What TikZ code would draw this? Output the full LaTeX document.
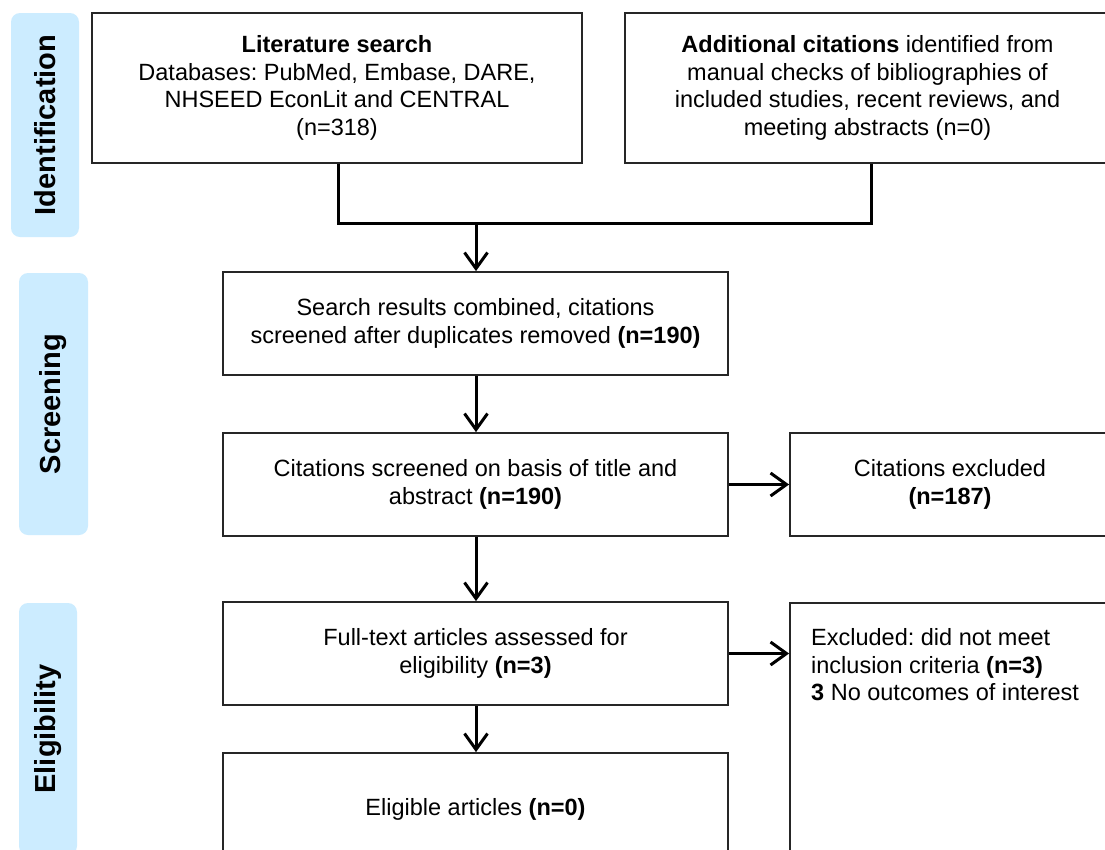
\documentclass[tikz,border=0pt]{standalone}
\usepackage{fontspec}
\setmainfont{Liberation Sans}
\usetikzlibrary{arrows.meta}
\definecolor{phasecol}{RGB}{204,236,255}
\frenchspacing

\begin{document}
\begin{tikzpicture}[x=1pt,y=-1pt,
  box/.style={draw=black!85, line width=1.8pt, fill=white, inner sep=0pt,
    align=center, font=\fontsize{23.5}{27.8}\selectfont},
  phase/.style={fill=phasecol, rounded corners=9pt, inner sep=0pt, rotate=90,
    font=\fontsize{29}{33}\selectfont\bfseries},
  link/.style={line width=3pt, line join=miter},
  flow/.style={link, -{Straight Barb[length=16pt,width=23pt,line width=3pt]}}
]
\useasboundingbox[fill=white] (0,0) rectangle (1105,849);

% phase labels on the left
\node[phase, minimum width=224pt, minimum height=68pt] (pid) at (45,125) {Identification};
\node[phase, minimum width=262pt, minimum height=69pt] (psc) at (53.5,404) {Screening};
\node[phase, minimum width=252pt, minimum height=58pt] (pel) at (48,729) {Eligibility};

% identification
\node[box, minimum width=490pt, minimum height=150pt] (lit) at (337,88)
  {\textbf{Literature search}\\Databases: PubMed, Embase, DARE,\\NHSEED EconLit and CENTRAL\\(n=318)};
\node[box, minimum width=485pt, minimum height=150pt] (add) at (867.5,88)
  {\textbf{Additional citations} identified from\\manual checks of bibliographies of\\included studies, recent reviews, and\\meeting abstracts (n=0)};

% screening
\node[box, minimum width=505pt, minimum height=103pt] (sr) at (475.5,323.5)
  {Search results combined, citations\\screened after duplicates removed \textbf{(n=190)}};
\node[box, minimum width=505pt, minimum height=103pt] (cs) at (475.5,484.5)
  {Citations screened on basis of title and\\abstract \textbf{(n=190)}};
\node[box, minimum width=320pt, minimum height=103pt] (ce) at (950,484.5)
  {Citations excluded\\\textbf{(n=187)}};

% eligibility
\node[box, minimum width=505pt, minimum height=103pt] (ft) at (475.5,653.5)
  {Full-text articles assessed for\\eligibility \textbf{(n=3)}};
\node[box, minimum width=320pt, minimum height=297pt] (ex) at (950,751.5) {};
\node[anchor=north west, inner sep=0pt, align=left,
  font=\fontsize{23.5}{27.8}\selectfont] (extext) at (811,628)
  {Excluded: did not meet\\inclusion criteria \textbf{(n=3)}\\\textbf{3} No outcomes of interest};
\node[box, minimum width=505pt, minimum height=112pt] (el) at (475.5,809)
  {Eligible articles \textbf{(n=0)}};

% connectors
\coordinate (jl) at (338,223);
\coordinate (jr) at (871,223);
\coordinate (jm) at (476,223);
\draw[link] (lit.south -| jl) -- (jl) -- (jr) -- (add.south -| jr);
\draw[flow] (jm) -- (sr.north -| jm);
\draw[flow] (sr.south -| jm) -- (cs.north -| jm);
\draw[flow] (cs.east) -- (cs.east -| ce.west);
\draw[flow] (cs.south -| jm) -- (ft.north -| jm);
\draw[flow] (ft.east) -- (ft.east -| ex.west);
\draw[flow] (ft.south -| jm) -- (el.north -| jm);
\end{tikzpicture}
\end{document}
